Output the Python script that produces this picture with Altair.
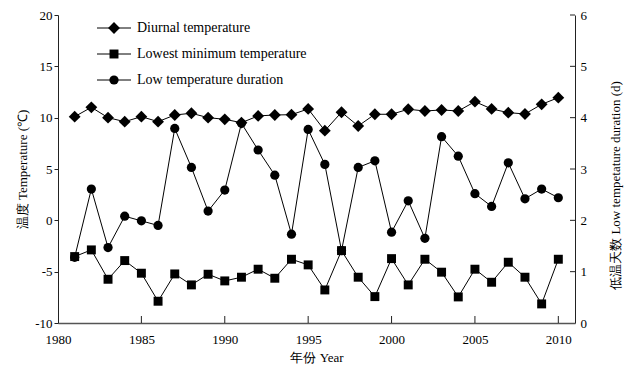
import altair as alt
import pandas as pd

# ---- data ----
years = list(range(1981, 2011))
diurnal = [10.10, 11.01, 10.00, 9.61, 10.10, 9.61, 10.26, 10.43, 10.00, 9.84,
           9.51, 10.17, 10.26, 10.29, 10.85, 8.73, 10.53, 9.19, 10.33, 10.33,
           10.82, 10.65, 10.75, 10.65, 11.56, 10.85, 10.49, 10.36, 11.30, 11.95]
lowest = [-3.53, -2.88, -5.74, -3.92, -5.15, -7.88, -5.22, -6.29, -5.25, -5.90,
          -5.54, -4.76, -5.64, -3.79, -4.34, -6.78, -2.95, -5.54, -7.43, -3.73,
          -6.29, -3.79, -5.05, -7.46, -4.76, -6.03, -4.08, -5.54, -8.14, -3.79]
duration = [1.28, 2.61, 1.47, 2.08, 1.99, 1.90, 3.79, 3.03, 2.18, 2.59,
            3.89, 3.37, 2.88, 1.73, 3.77, 3.09, 1.41, 3.03, 3.16, 1.77,
            2.38, 1.65, 3.63, 3.25, 2.52, 2.27, 3.12, 2.42, 2.61, 2.44]
series_names = ["Diurnal temperature", "Lowest minimum temperature", "Low temperature duration"]
series_shapes = ["diamond", "square", "circle"]
x_ticks = [1980, 1985, 1990, 1995, 2000, 2005, 2010]
left_ticks = [-10, -5, 0, 5, 10, 15, 20]
right_ticks = [0, 1, 2, 3, 4, 5, 6]

FONT = "Liberation Serif"
W, H = 517, 308

d_df = pd.DataFrame({"year": years, "v": diurnal})
l_df = pd.DataFrame({"year": years, "v": lowest})
r_df = pd.DataFrame({"year": years, "v": duration})

x_axis = alt.Axis(values=x_ticks, format="d", ticks=False, tickSize=0, labelPadding=10,
                  labelFlush=False, labelOverlap=False, title="年份 Year", titlePadding=5,
                  domainColor="#555555", domainWidth=1.5)
x_enc = alt.X("year:Q", scale=alt.Scale(domain=[1980, 2011], nice=False, zero=False), axis=x_axis)

left_axis = alt.Axis(values=left_ticks, tickSize=4, labelPadding=2, labelExpr="'' + datum.value",
                     title="温度 Temperature (℃)", titleX=-36, titleY=H / 2, titleAngle=270,
                     titleBaseline="middle", titleAlign="center",
                     domainColor="#222222", tickColor="#222222")
left_scale = alt.Scale(domain=[-10, 20], nice=False, zero=False)

right_axis = alt.Axis(orient="right", values=right_ticks, ticks=False, tickSize=0, labelPadding=5,
                      title="低温天数 Low tempetature duration (d)", titleX=40, titleY=170,
                      titleAngle=270, titleBaseline="middle", titleAlign="center",
                      domainColor="#222222")
right_scale = alt.Scale(domain=[0, 6], nice=False, zero=False)

sizes = {"diamond": 140, "square": 80, "circle": 85}


def series_layer(df, shape, scale, axis):
    return alt.Chart(df).mark_line(
        color="black", strokeWidth=1,
        point=alt.OverlayMarkDef(shape=shape, size=sizes[shape], filled=True,
                                 color="black", opacity=1)
    ).encode(x=x_enc, y=alt.Y("v:Q", scale=scale, axis=axis))


diurnal_layer = series_layer(d_df, "diamond", left_scale, left_axis)
lowest_layer = series_layer(l_df, "square", left_scale, left_axis)
duration_layer = series_layer(r_df, "circle", right_scale, right_axis)

# inward ticks on the bottom axis
xtick_layer = alt.Chart(pd.DataFrame({"year": x_ticks[1:]})).mark_rule(
    color="#222222", strokeWidth=1
).encode(x=x_enc, y=alt.value(H), y2=alt.value(H - 7))

# inward ticks on the right axis
rtick_layer = alt.Chart(pd.DataFrame({"v": right_ticks[1:]})).mark_rule(
    color="#222222", strokeWidth=1
).encode(x=alt.value(W - 5), x2=alt.value(W), y=alt.Y("v:Q", scale=right_scale, axis=right_axis))

# hand-built legend
legend_layers = []
row_y = [13, 39, 65]
for name, shape, yy in zip(series_names, series_shapes, row_y):
    ldf = pd.DataFrame({"name": [name]})
    base = alt.Chart(ldf)
    legend_layers.append(base.mark_rule(color="black", strokeWidth=1).encode(
        x=alt.value(39), x2=alt.value(73), y=alt.value(yy)))
    legend_layers.append(base.mark_point(shape=shape, size=sizes[shape], filled=True,
                                         color="black", opacity=1).encode(
        x=alt.value(56), y=alt.value(yy)))
    legend_layers.append(base.mark_text(align="left", baseline="middle", font=FONT,
                                        fontSize=14, color="black").encode(
        x=alt.value(79), y=alt.value(yy), text="name:N"))

left = alt.layer(diurnal_layer, lowest_layer, xtick_layer, *legend_layers)
right = alt.layer(duration_layer, rtick_layer)

chart = alt.layer(left, right).resolve_scale(y="independent").properties(
    width=W, height=H,
    autosize=alt.AutoSizeParams(type="none"),
    padding={"left": 58, "top": 15, "right": 55, "bottom": 53},
).configure_view(stroke=None).configure_axis(
    grid=False, labelFont=FONT, titleFont=FONT, labelFontSize=13, titleFontSize=13,
    labelColor="black", titleColor="black", titleFontWeight="normal",
)

chart.save("out.html", embed_options={"renderer": "svg", "actions": False})
